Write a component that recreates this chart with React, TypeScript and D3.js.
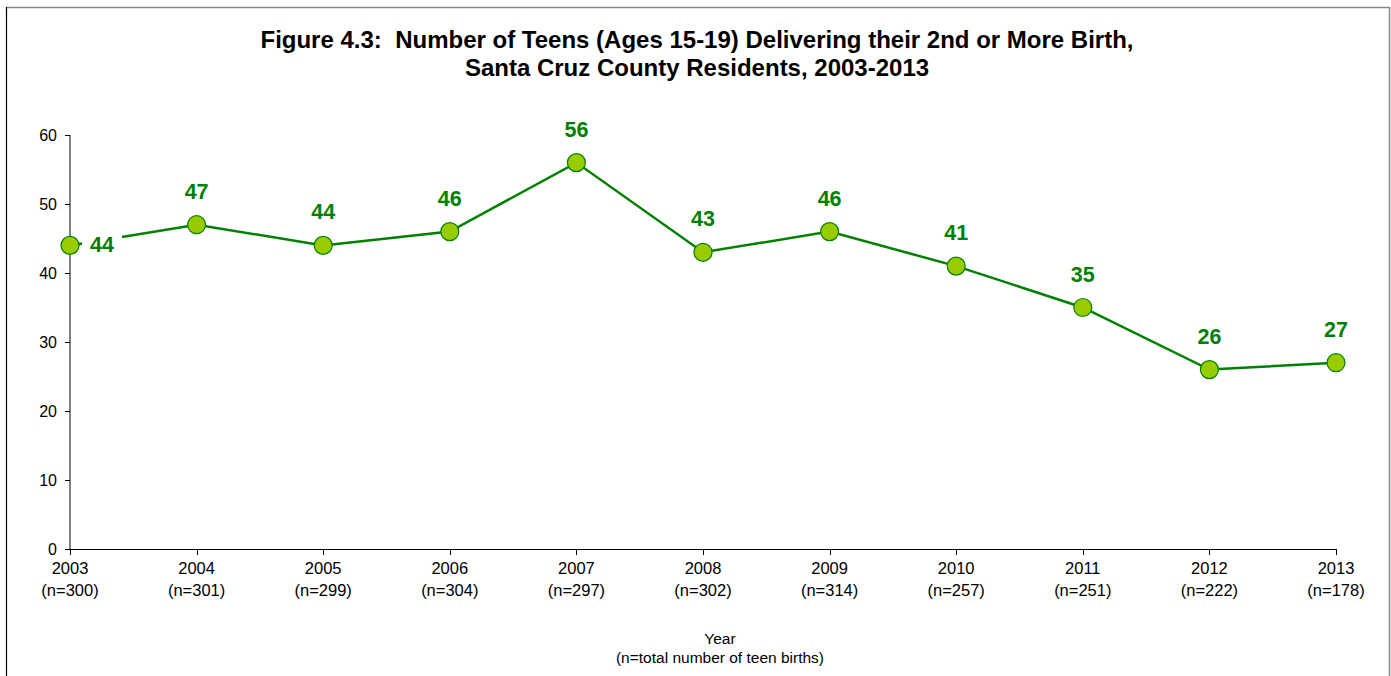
import React from "react";
import * as d3 from "d3";

const years = ["2003", "2004", "2005", "2006", "2007", "2008", "2009", "2010", "2011", "2012", "2013"];
const totals = ["300", "301", "299", "304", "297", "302", "314", "257", "251", "222", "178"];
const values = [44, 47, 44, 46, 56, 43, 46, 41, 35, 26, 27];
const yTicks = [0, 10, 20, 30, 40, 50, 60];
const titleLines = [
  "Figure 4.3:  Number of Teens (Ages 15-19) Delivering their 2nd or More Birth,",
  "Santa Cruz County Residents, 2003-2013",
];
const axisTitleLines = ["Year", "(n=total number of teen births)"];

const W = 1391;
const H = 676;
const FONT = "Arial, 'Liberation Sans', Helvetica, sans-serif";
const GREEN = "#008000";
const FILL = "#99cc00";

export default function App() {
  const x = d3.scalePoint<string>().domain(years).range([70, 1336]);
  const y = d3.scaleLinear().domain([0, 60]).range([549, 135]);
  const line = d3
    .line<number>()
    .x((_, i) => x(years[i]) as number)
    .y((d) => y(d));

  return (
    <svg
      width={W}
      height={H}
      style={{ position: "absolute", left: 0, top: 0, background: "#fff" }}
      fontFamily={FONT}
    >
      <rect x={0} y={0} width={W} height={H} fill="#fff" />
      {/* frame */}
      <line x1={6.5} y1={7.5} x2={1389.5} y2={7.5} stroke="#888" strokeWidth={1.5} />
      <line x1={6.5} y1={7} x2={6.5} y2={H} stroke="#000" strokeWidth={1.2} />
      <line x1={1389.5} y1={7} x2={1389.5} y2={H} stroke="#888" strokeWidth={1.5} />

      {/* title */}
      {titleLines.map((t, i) => (
        <text
          key={i}
          x={697}
          y={48 + i * 28}
          textAnchor="middle"
          fontWeight="bold"
          fontSize={24}
          fill="#000"
          style={{ whiteSpace: "pre" }}
        >
          {t}
        </text>
      ))}

      {/* y axis */}
      <line x1={70} y1={y(60)} x2={70} y2={y(0)} stroke="#000" strokeWidth={1} />
      {yTicks.map((t) => (
        <g key={t}>
          <line x1={65} x2={70} y1={Math.round(y(t)) + 0.5} y2={Math.round(y(t)) + 0.5} stroke="#000" />
          <text x={57} y={y(t)} dy="0.35em" textAnchor="end" fontSize={16} fill="#000">
            {t}
          </text>
        </g>
      ))}

      {/* x axis */}
      <line x1={70} y1={y(0) + 0.5} x2={1336} y2={y(0) + 0.5} stroke="#000" strokeWidth={1} />
      {years.map((yr, i) => {
        const xp = Math.round(x(yr) as number) + 0.5;
        return (
          <g key={yr}>
            <line x1={xp} x2={xp} y1={y(0)} y2={y(0) + 6} stroke="#000" />
            <text x={x(yr)} y={574} textAnchor="middle" fontSize={16.5} fill="#000">
              {yr}
            </text>
            <text x={x(yr)} y={596} textAnchor="middle" fontSize={16.5} fill="#000">
              (n={totals[i]})
            </text>
          </g>
        );
      })}
      {axisTitleLines.map((t, i) => (
        <text key={i} x={720} y={644 + i * 19} textAnchor="middle" fontSize={15.5} fill="#000">
          {t}
        </text>
      ))}

      {/* line */}
      <path d={line(values) || ""} fill="none" stroke={GREEN} strokeWidth={2.5} />

      {/* first label with white background, placed right */}
      <rect x={82} y={y(values[0]) - 18} width={40} height={28} fill="#fff" />

      {/* markers */}
      {values.map((v, i) => (
        <circle
          key={i}
          cx={x(years[i])}
          cy={y(v)}
          r={9}
          fill={FILL}
          stroke={GREEN}
          strokeWidth={1.2}
        />
      ))}

      {/* labels */}
      {values.map((v, i) =>
        i === 0 ? (
          <text
            key={i}
            x={102}
            y={y(v) - 1}
            dy="0.35em"
            textAnchor="middle"
            fontWeight="bold"
            fontSize={21.5}
            fill={GREEN}
          >
            {v}
          </text>
        ) : (
          <text
            key={i}
            x={x(years[i])}
            y={y(v) - 26}
            textAnchor="middle"
            fontWeight="bold"
            fontSize={21.5}
            fill={GREEN}
          >
            {v}
          </text>
        )
      )}
    </svg>
  );
}
